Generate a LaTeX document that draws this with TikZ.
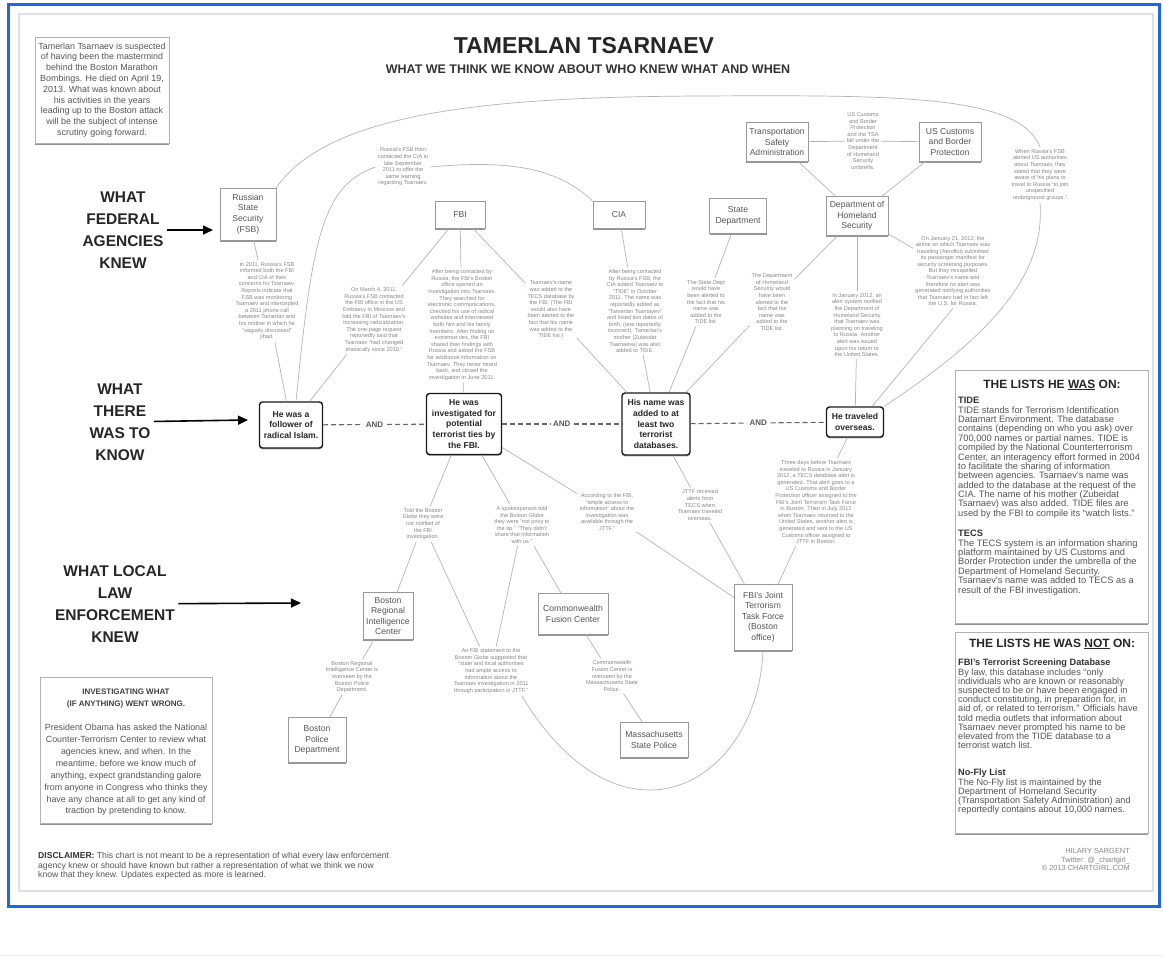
\documentclass[tikz,border=0pt]{standalone}
\usepackage{fontspec}
\setmainfont{Liberation Sans}
\usetikzlibrary{shadows,arrows.meta}
\definecolor{frameblue}{RGB}{30,105,215}
\definecolor{linegray}{RGB}{180,180,180}
\definecolor{boxtext}{RGB}{85,85,85}
\definecolor{anntext}{RGB}{135,135,135}
\tikzset{
  box/.style={draw=black!40, fill=white, line width=0.6pt, align=center, text=boxtext,
    font=\fontsize{8.6}{10.6}\selectfont, inner sep=2pt,
    drop shadow={shadow xshift=0pt, shadow yshift=-1.6pt, fill=black!60, opacity=0.7}},
  keybox/.style={draw=black!90, fill=white, line width=1.4pt, rounded corners=3pt, align=center,
    font=\bfseries\fontsize{8.6}{10.8}\selectfont, inner sep=2pt, text=black!85,
    drop shadow={shadow xshift=0pt, shadow yshift=-1.4pt, fill=black!55, opacity=0.6}},
  infobox/.style={draw=black!30, fill=white, line width=0.6pt,
    drop shadow={shadow xshift=0pt, shadow yshift=-1.8pt, fill=black!60, opacity=0.7}},
  ann/.style={align=center, text=anntext, font=\fontsize{5.6}{6.6}\selectfont, inner sep=2pt},
  conn/.style={draw=linegray, line width=0.7pt},
  andline/.style={draw=black!60, line width=1.1pt, dash pattern=on 5pt off 3pt},
  andlabel/.style={font=\bfseries\fontsize{8}{9}\selectfont, text=black!65, fill=white, inner sep=2.5pt},
  biglabel/.style={align=center, font=\bfseries\fontsize{15.5}{22}\selectfont, text=black!85},
  bigarrow/.style={-{Triangle[length=10pt,width=9pt]}, line width=1.6pt, draw=black},
}
\begin{document}
\begin{tikzpicture}[x=1pt,y=-1pt]
\useasboundingbox (0,0) rectangle (1163,968);
\fill[white] (0,0) rectangle (1163,968);
\draw[black!7, line width=1pt] (0,955) -- (1163,955);
\draw[black!12, line width=1.5pt] (19,14) rectangle (1153,891);
\draw[frameblue, line width=3pt] (8,5) rectangle (1159,906);

% titles
\node[font=\bfseries\fontsize{23}{26}\selectfont, text=black!85] (title) at (584,46) {TAMERLAN TSARNAEV};
\node[font=\bfseries\fontsize{12.5}{14}\selectfont, text=black!80] (subtitle) at (588,69) {WHAT WE THINK WE KNOW ABOUT WHO KNEW WHAT AND WHEN};

% intro box
\node[infobox, font=\fontsize{8.9}{10.8}\selectfont, text=boxtext, align=center, minimum width=132pt, minimum height=106pt] (intro) at (102,90) {Tamerlan Tsarnaev is suspected\\of having been the mastermind\\behind the Boston Marathon\\Bombings. He died on April 19,\\2013. What was known about\\his activities in the years\\leading up to the Boston attack\\will be the subject of intense\\scrutiny going forward.};

% left labels
\node[biglabel] (lblfed) at (123,230) {WHAT\\FEDERAL\\AGENCIES\\KNEW};
\node[biglabel] (lblknow) at (120,422) {WHAT\\THERE\\WAS TO\\KNOW};
\node[biglabel] (lbllocal) at (115,604) {WHAT LOCAL\\LAW\\ENFORCEMENT\\KNEW};
\coordinate (fedtip) at (213,230);
\coordinate (knowtip) at (248,420);
\coordinate (localtip) at (301,603);
\draw[bigarrow] (lblfed) -- (fedtip);
\draw[bigarrow] (lblknow) -- (knowtip);
\draw[bigarrow] (lbllocal) -- (localtip);

% federal agencies
\node[box, minimum width=56pt, minimum height=52pt] (fsb) at (248,214) {Russian\\State\\Security\\(FSB)};
\node[box, minimum width=50pt, minimum height=27pt] (fbi) at (460,215) {FBI};
\node[box, minimum width=52pt, minimum height=27pt] (cia) at (619,215) {CIA};
\node[box, minimum width=57pt, minimum height=35pt] (state) at (738,216) {State\\Department};
\node[box, minimum width=62pt, minimum height=39pt] (dhs) at (857,216) {Department of\\Homeland\\Security};
\node[box, minimum width=62pt, minimum height=39pt] (tsa) at (777,142) {Transportation\\Safety\\Administration};
\node[box, minimum width=62pt, minimum height=39pt] (cbp) at (950,142) {US Customs\\and Border\\Protection};

% key facts
\node[keybox, minimum width=63pt, minimum height=46pt] (follower) at (291,425) {He was a\\follower of\\radical Islam.};
\node[keybox, minimum width=75pt, minimum height=61pt] (invest) at (464,424) {He was\\investigated for\\potential\\terrorist ties by\\the FBI.};
\node[keybox, minimum width=68pt, minimum height=62pt] (added) at (656,424) {His name was\\added to at\\least two\\terrorist\\databases.};
\node[keybox, minimum width=57pt, minimum height=30pt] (travel) at (855,422) {He traveled\\overseas.};

% local
\node[box, minimum width=50pt, minimum height=47pt] (bric) at (388,616) {Boston\\Regional\\Intelligence\\Center};
\node[box, minimum width=70pt, minimum height=41pt] (cfc) at (573,614) {Commonwealth\\Fusion Center};
\node[box, minimum width=58pt, minimum height=66pt] (jttf) at (763,617) {FBI's Joint\\Terrorism\\Task Force\\(Boston\\office)};
\node[box, minimum width=58pt, minimum height=45pt] (bpd) at (317,740) {Boston\\Police\\Department};
\node[box, minimum width=68pt, minimum height=35pt] (msp) at (654,740) {Massachusetts\\State Police};

% annotations
\node[ann] (a1) at (267,301) {In 2011, Russia's FSB\\informed both the FBI\\and CIA of their\\concerns for Tsarnaev.\\Reports indicate that\\FSB was monitoring\\Tsarnaev and intercepted\\a 2011 phone call\\between Tamerlan and\\his mother in which he\\``vaguely discussed''\\jihad.};
\node[ann] (a2) at (374,320) {On March 4, 2011,\\Russia's FSB contacted\\the FBI office in the US\\Embassy in Moscow and\\told the FBI of Tsarnaev's\\increasing radicalization.\\The one-page request\\reportedly said that\\Tsarnaev ``had changed\\drastically since 2010.''};
\node[ann] (a3) at (403,167) {Russia's FSB then\\contacted the CIA in\\late September\\2011 to offer the\\same warning\\regarding Tsarnaev.};
\node[ann] (a4) at (462,325) {After being contacted by\\Russia, the FBI's Boston\\office opened an\\investigation into Tsarnaev.\\They searched for\\electronic communications,\\checked his use of radical\\websites and interviewed\\both him and his family\\members. After finding no\\extremist ties, the FBI\\shared their findings with\\Russia and asked the FSB\\for additional information on\\Tsarnaev. They never heard\\back, and closed the\\investigation in June 2011.};
\node[ann] (a5) at (551,310) {Tsarnaev's name\\was added to the\\TECS database by\\the FBI. (The FBI\\would also have\\been alerted to the\\fact that his name\\was added to the\\TIDE list.)};
\node[ann] (a6) at (635,311) {After being contacted\\by Russia's FSB, the\\CIA added Tsarnaev to\\``TIDE'' in October\\2011. The name was\\reportedly added as\\``Tamerlan Tsarnayev''\\and listed two dates of\\birth, (one reportedly\\incorrect). Tamerlan's\\mother (Zubeidat\\Tsarnaeva) was also\\added to TIDE.};
\node[ann] (a7) at (706,302) {The State Dept\\would have\\been alerted to\\the fact that his\\name was\\added to the\\TIDE list.};
\node[ann] (a8) at (772,302) {The Department\\of Homeland\\Security would\\have been\\alerted to the\\fact that his\\name was\\added to the\\TIDE list.};
\node[ann] (a9) at (857,325) {In January 2012, an\\alert system notified\\the Department of\\Homeland Security\\that Tsarnaev was\\planning on traveling\\to Russia. Another\\alert was issued\\upon his return to\\the United States.};
\node[ann] (a10) at (953,271) {On January 21, 2012, the\\airline on which Tsarnaev was\\traveling (Aeroflot) submitted\\its passenger manifest for\\security screening purposes.\\But they misspelled\\Tsarnaev's name and\\therefore no alert was\\generated notifying authorities\\that Tsarnaev had in fact left\\the U.S. for Russia.};
\node[ann] (a11) at (863,141) {US Customs\\and Border\\Protection\\and the TSA\\fall under the\\Department\\of Homeland\\Security\\umbrella.};
\node[ann] (a12) at (1040,175) {When Russia's FSB\\alerted US authorities\\about Tsarnaev, they\\stated that they were\\aware of his plans to\\travel to Russia ``to join\\unspecified\\underground groups.''};
\node[ann] (a13) at (423,524) {Told the Boston\\Globe they were\\not notified of\\the FBI\\investigation.};
\node[ann] (a14) at (522,525) {A spokesperson told\\the Boston Globe\\they were ``not privy to\\the tip.'' ``They didn't\\share that information\\with us.''};
\node[ann] (a15) at (607,512) {According to the FBI,\\``ample access to\\information'' about the\\investigation was\\available through the\\JTTF.''};
\node[ann] (a16) at (700,505) {JTTF received\\alerts from\\TECS when\\Tsarnaev traveled\\overseas.};
\node[ann] (a17) at (816,502) {Three days before Tsarnaev\\traveled to Russia in January\\2012, a TECS database alert is\\generated. That alert goes to a\\US Customs and Border\\Protection officer assigned to the\\FBI's Joint Terrorism Task Force\\in Boston. Then in July 2012\\when Tsarnaev returned to the\\United States, another alert is\\generated and sent to the US\\Customs officer assigned to\\JTTF in Boston.};
\node[ann] (a18) at (352,677) {Boston Regional\\Intelligence Center is\\overseen by the\\Boston Police\\Department.};
\node[ann] (a19) at (491,671) {An FBI statement to the\\Boston Globe suggested that\\``state and local authorities\\had ample access to\\information about the\\Tsarnaev investigation in 2011\\through participation in JTTF.''};
\node[ann] (a20) at (612,676) {Commonwealth\\Fusion Center is\\overseen by the\\Massachusetts State\\Police.};

% connectors: federal
\draw[conn] (fsb.north east) .. controls (330,110) and (500,97) .. (700,96) .. controls (900,95) and (1020,95) .. (a12.north);
\draw[conn] (a12.south) .. controls (1045,270) and (1000,330) .. (travel.north east);
\draw[conn] (fsb) -- (a1);
\draw[conn] (a1) -- (follower);
\draw[conn] ([xshift=5pt]follower.north) .. controls (312,240) and (322,185) .. (a3.west);
\draw[conn] (a3.east) .. controls (515,159) and (560,170) .. (cia.north west);
\draw[conn] (fbi) -- (a2);
\draw[conn] (a2) -- (follower);
\draw[conn] (fbi) -- (a4);
\draw[conn] (a4) -- (invest);
\draw[conn] (fbi) -- (a5);
\draw[conn] (a5) -- (added);
\draw[conn] (cia) -- (a6);
\draw[conn] (a6) -- (added);
\draw[conn] (state) -- (a7);
\draw[conn] (a7) -- (added);
\draw[conn] (dhs) -- (a8);
\draw[conn] (a8) -- (added);
\draw[conn] (dhs) -- (a9);
\draw[conn] (a9) -- (travel);
\draw[conn] (dhs) -- (a10);
\draw[conn] (a10.south) -- ([xshift=-12pt]travel.north east);
\draw[conn] (tsa) -- (dhs);
\draw[conn] (cbp) -- (dhs);
\draw[conn] (tsa) -- (a11);
\draw[conn] (a11) -- (cbp);

% AND line
\draw[andline] (follower) -- node[andlabel] (and1) {AND} (invest);
\draw[andline] (invest) -- node[andlabel] (and2) {AND} (added);
\draw[andline] (added) -- node[andlabel] (and3) {AND} (travel);

% connectors: local
\draw[conn] (invest) -- (a13);
\draw[conn] (a13) -- (bric);
\draw[conn] (a13) -- (a19);
\draw[conn] (invest) -- (a14);
\draw[conn] (a14) -- (cfc);
\draw[conn] (a14) -- (a19);
\draw[conn] (invest) -- (a15);
\draw[conn] (a15) -- (jttf);
\draw[conn] (added) -- (a16);
\draw[conn] (a16) -- (jttf);
\draw[conn] (travel) -- (a17);
\draw[conn] (a17) -- (jttf);
\draw[conn] (bric) -- (a18);
\draw[conn] (a18) -- (bpd);
\draw[conn] (cfc) -- (a20);
\draw[conn] (a20) -- (msp);
\draw[conn] ([xshift=-9pt]a19.south east) .. controls (545,735) and (590,790) .. (650,790) .. controls (710,790) and (760,730) .. (jttf.south);

% lists boxes
\node[infobox, minimum width=193pt, minimum height=253pt, anchor=north west] (onbox) at (955,370) {};
\node[font=\bfseries\fontsize{12}{14}\selectfont, text=black!85] (onhead) at (1052,385) {THE LISTS HE \underline{WAS} ON:};
\node[font=\fontsize{9.3}{9.4}\selectfont, text=boxtext, align=left, anchor=north west, inner sep=0pt] (onbody) at (958,397) {\textbf{\textcolor{black!80}{TIDE}}\\TIDE stands for Terrorism Identification\\Datamart Environment. The database\\contains (depending on who you ask) over\\700,000 names or partial names. TIDE is\\compiled by the National Counterterrorism\\Center, an interagency effort formed in 2004\\to facilitate the sharing of information\\between agencies. Tsarnaev's name was\\added to the database at the request of the\\CIA. The name of his mother (Zubeidat\\Tsarnaev) was also added. TIDE files are\\used by the FBI to compile its ``watch lists.''\\[11pt]\textbf{\textcolor{black!80}{TECS}}\\The TECS system is an information sharing\\platform maintained by US Customs and\\Border Protection under the umbrella of the\\Department of Homeland Security.\\Tsarnaev's name was added to TECS as a\\result of the FBI investigation.};

\node[infobox, minimum width=193pt, minimum height=201pt, anchor=north west] (notbox) at (955,632) {};
\node[font=\bfseries\fontsize{12}{14}\selectfont, text=black!85] (nothead) at (1052,644) {THE LISTS HE WAS \underline{NOT} ON:};
\node[font=\fontsize{9.2}{9.2}\selectfont, text=boxtext, align=left, anchor=north west, inner sep=0pt] (notbody) at (958,659) {\textbf{\textcolor{black!80}{FBI's Terrorist Screening Database}}\\By law, this database includes ``only\\individuals who are known or reasonably\\suspected to be or have been engaged in\\conduct constituting, in preparation for, in\\aid of, or related to terrorism.'' Officials have\\told media outlets that information about\\Tsarnaev never prompted his name to be\\elevated from the TIDE database to a\\terrorist watch list.\\[18pt]\textbf{\textcolor{black!80}{No-Fly List}}\\The No-Fly list is maintained by the\\Department of Homeland Security\\(Transportation Safety Administration) and\\reportedly contains about 10,000 names.};

% bottom-left box
\node[infobox, minimum width=172pt, minimum height=146pt, anchor=north west] (wrongbox) at (40,677) {};
\node[font=\bfseries\fontsize{8}{12}\selectfont, text=black!75, align=center] (wronghead) at (126,699) {INVESTIGATING WHAT\\(IF ANYTHING) WENT WRONG.};
\node[font=\fontsize{8.9}{11.9}\selectfont, text=boxtext, align=center] (wrongbody) at (126,770) {President Obama has asked the National\\Counter-Terrorism Center to review what\\agencies knew, and when. In the\\meantime, before we know much of\\anything, expect grandstanding galore\\from anyone in Congress who thinks they\\have any chance at all to get any kind of\\traction by pretending to know.};

% disclaimer and credits
\node[font=\fontsize{8.6}{9.6}\selectfont, text=boxtext, align=left, anchor=north west, inner sep=0pt] (disclaimer) at (38,852) {\textbf{\textcolor{black!80}{DISCLAIMER:}} This chart is not meant to be a representation of what every law enforcement\\agency knew or should have known but rather a representation of what we think we now\\know that they knew. Updates expected as more is learned.};
\node[font=\fontsize{7.4}{8.8}\selectfont, text=anntext, align=right, anchor=north east, inner sep=0pt] (credits) at (1130,848) {HILARY SARGENT\\Twitter: @\_chartgirl\_\\© 2013 CHARTGIRL.COM};
\end{tikzpicture}
\end{document}
